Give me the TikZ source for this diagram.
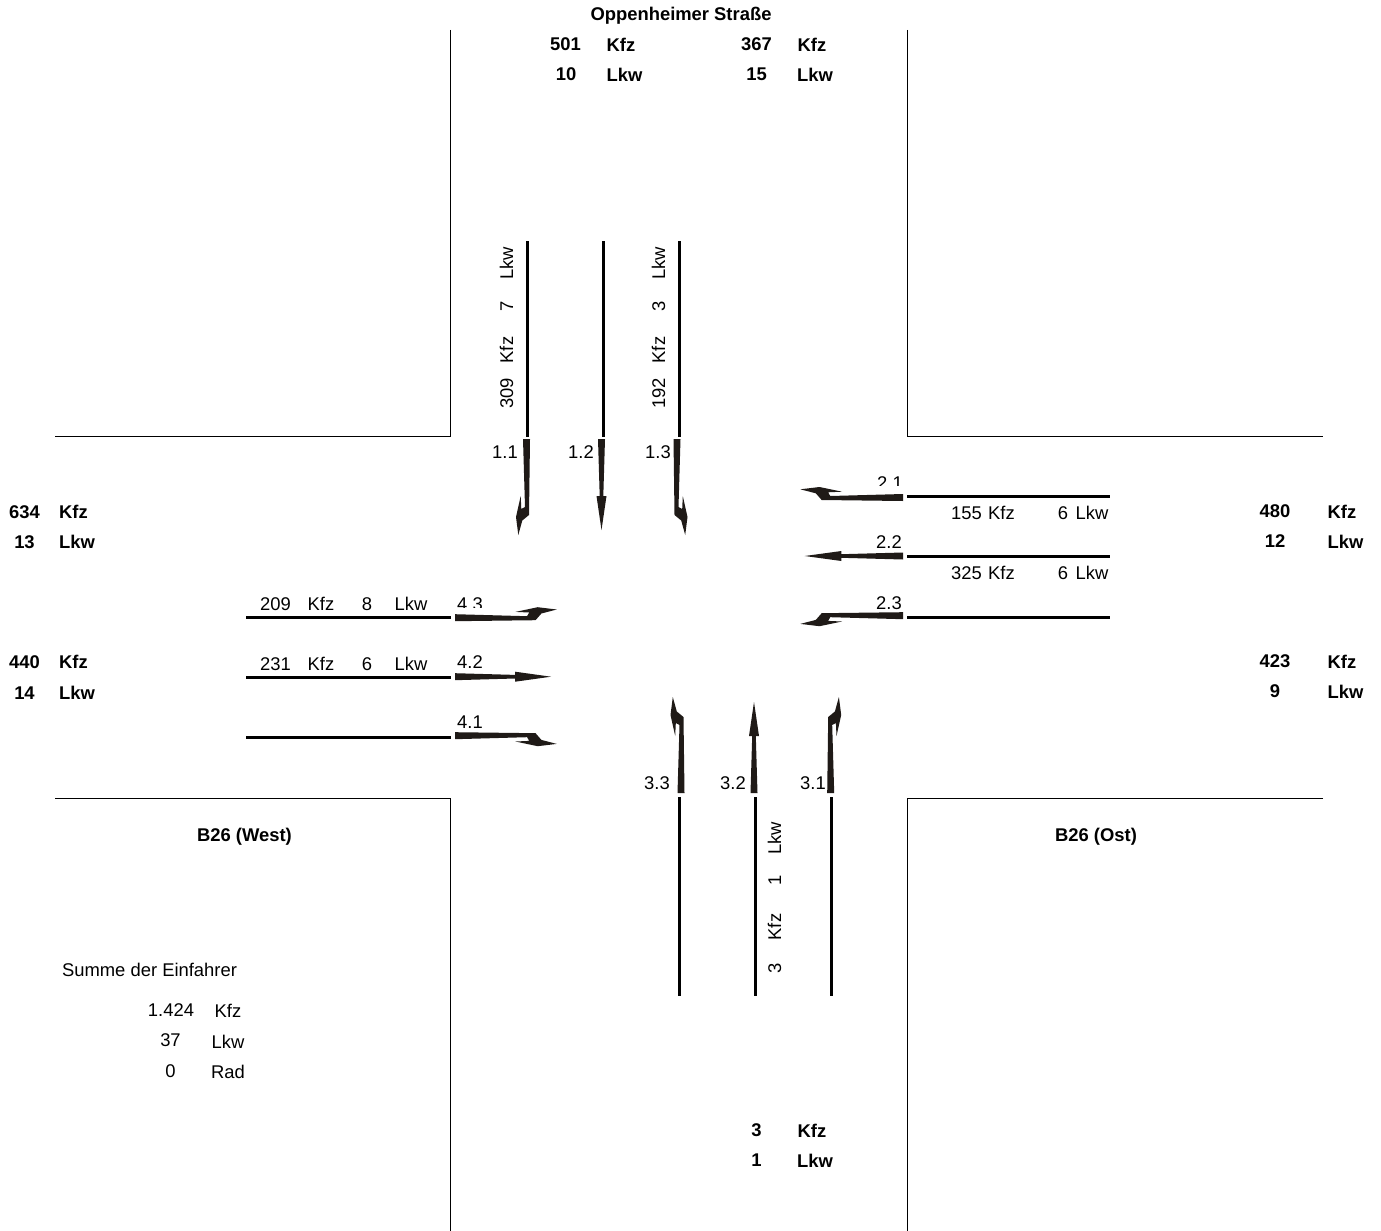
\documentclass[tikz,border=0pt]{standalone}
\usepackage{fontspec}
\setmainfont{Liberation Sans}
\definecolor{arrowink}{HTML}{1F1A17}
\tikzset{
  road/.style={draw=black,line width=0.75pt},
  lane/.style={draw=black,line width=2.25pt},
  txt/.style={anchor=base,inner sep=0pt,yshift=-0.75pt,font=\fontsize{13.8}{16}\selectfont},
  btxt/.style={anchor=base,inner sep=0pt,yshift=-0.75pt,font=\fontsize{13.8}{16}\selectfont\bfseries},
  vtxt/.style={anchor=base,inner sep=0pt,rotate=90,font=\fontsize{13.8}{16}\selectfont}
}
\newcommand{\N}[4]{\node[txt] (#1) at (#2,#3) {#4};}
\newcommand{\B}[4]{\node[btxt] (#1) at (#2,#3) {#4};}
\newcommand{\V}[4]{\node[vtxt] (#1) at (#2,#3) {#4};}
\newcommand{\turnarrow}[1]{\fill[arrowink,#1] (-3.5,0) -- (3.5,0) -- (2.5,76) -- (-4.2,81.5) -- (-8.2,96) -- (-10.5,78) -- (-5.8,57) -- (-5.2,70) -- (-1.5,68) -- cycle;}
\newcommand{\straightarrow}[1]{\fill[arrowink,#1] (-3.5,0) -- (3.5,0) -- (1.8,57) -- (5,57) -- (0,91) -- (-5,57) -- (-1.8,57) -- cycle;}
\begin{document}
\begin{tikzpicture}[x=0.75pt,y=-0.75pt]
\useasboundingbox (0,0) rectangle (1381,1231);
% kerbs
\draw[road] (450.5,30) -- (450.5,436) -- (55,436);
\draw[road] (907,30) -- (907,436) -- (1323,436);
\draw[road] (55,798) -- (450.5,798) -- (450.5,1231);
\draw[road] (1323,798) -- (907,798) -- (907,1231);
% lanes
\foreach \x in {527,603,679} \draw[lane] (\x,241) -- (\x,437);
\foreach \y in {496,556,617} \draw[lane] (907,\y) -- (1110,\y);
\foreach \y in {617,677,737} \draw[lane] (246,\y) -- (451,\y);
\foreach \x in {679,755,831} \draw[lane] (\x,797) -- (\x,996);
% north totals
\B{title}{681}{20}{Oppenheimer Straße}
\B{na}{565.5}{50}{501}\B{nb}{621}{51}{Kfz}\B{nc}{566}{80}{10}\B{nd}{624.5}{81}{Lkw}
\B{ne}{756.5}{50}{367}\B{nf}{812}{51}{Kfz}\B{ng}{756.5}{80}{15}\B{nh}{815}{81}{Lkw}
% west totals
\B{wa}{24.5}{517}{634}\B{wb}{73.5}{517}{Kfz}\B{wc}{24.5}{547}{13}\B{wd}{77}{547}{Lkw}
\B{we}{24.5}{667}{440}\B{wf}{73.5}{667}{Kfz}\B{wg}{24.5}{698}{14}\B{wh}{77}{698}{Lkw}
% east totals
\B{ea}{1275}{516}{480}\B{eb}{1342}{517}{Kfz}\B{ec}{1275}{546}{12}\B{ed}{1345.5}{547}{Lkw}
\B{ee}{1275}{666}{423}\B{ef}{1342}{667}{Kfz}\B{eg}{1275}{696}{9}\B{eh}{1345.5}{697}{Lkw}
% south totals
\B{sa}{756.5}{1135}{3}\B{sb}{812}{1136}{Kfz}\B{sc}{756.5}{1165}{1}\B{sd}{815}{1166}{Lkw}
% names
\B{bw}{244.5}{840}{B26 (West)}
\B{bo}{1096}{840}{B26 (Ost)}
% summary
\N{su}{149.5}{975}{Summe der Einfahrer}
\N{sk}{171}{1015}{1.424}\N{sl}{228}{1016}{Kfz}
\N{sm}{170.5}{1045}{37}\N{sn}{228}{1047}{Lkw}
\N{so}{170.5}{1076}{0}\N{sp}{228}{1077}{Rad}
% lane counts
\V{va}{513}{393.5}{309}\V{vb}{513}{350}{Kfz}\V{vc}{513}{306}{7}\V{vd}{513}{263.5}{Lkw}
\V{ve}{665}{393.5}{192}\V{vf}{665}{350}{Kfz}\V{vg}{665}{306}{3}\V{vh}{665}{263.5}{Lkw}
\V{vi}{781}{968}{3}\V{vj}{781}{927}{Kfz}\V{vk}{781}{880}{1}\V{vl}{781}{838.5}{Lkw}
\N{ha}{275.5}{609}{209}\N{hb}{321}{609}{Kfz}\N{hc}{367}{609}{8}\N{hd}{411}{609}{Lkw}
\N{he}{275.5}{669}{231}\N{hf}{321}{669}{Kfz}\N{hg}{367}{669}{6}\N{hh}{411}{669}{Lkw}
\N{hi}{966.5}{518}{155}\N{hj}{1001.5}{518}{Kfz}\N{hk}{1063}{518}{6}\N{hl}{1092}{518}{Lkw}
\N{hm}{966.5}{578}{325}\N{hn}{1001.5}{578}{Kfz}\N{ho}{1063}{578}{6}\N{hp}{1092}{578}{Lkw}
% lane ids
\N{l11}{505}{457.3}{1.1}\N{l12}{581}{457.3}{1.2}\N{l13}{658}{457.3}{1.3}
\N{l21}{890}{488}{2.1}\N{l22}{889}{547.3}{2.2}\N{l23}{889}{608}{2.3}
\N{l31}{813}{788}{3.1}\N{l32}{733}{788}{3.2}\N{l33}{657}{788}{3.3}
\N{l41}{470}{727.5}{4.1}\N{l42}{470}{667.5}{4.2}\N{l43}{470}{609}{4.3}
% labels partly hidden
\fill[white] (870,486) rectangle (905,492);
\fill[white] (450,607.5) rectangle (490,613);
% arrows south
\turnarrow{shift={(526.5,439)}}
\straightarrow{shift={(601.5,439)}}
\turnarrow{shift={(677,439)},xscale=-1}
% arrows west
\turnarrow{shift={(903,497.5)},rotate=-90,yscale=1.07}
\straightarrow{shift={(903,556)},rotate=-90,yscale=1.08}
\turnarrow{shift={(903,615.7)},rotate=-90,xscale=-1,yscale=1.07}
% arrows east
\turnarrow{shift={(455,617.7)},rotate=90,xscale=-1,yscale=1.06}
\straightarrow{shift={(455,676.7)},rotate=90,yscale=1.055}
\turnarrow{shift={(455,735.7)},rotate=90,yscale=1.06}
% arrows north
\turnarrow{shift={(681,793)},rotate=180,xscale=-1}
\straightarrow{shift={(754,793)},rotate=180}
\turnarrow{shift={(830.7,793)},rotate=180}
\end{tikzpicture}
\end{document}
